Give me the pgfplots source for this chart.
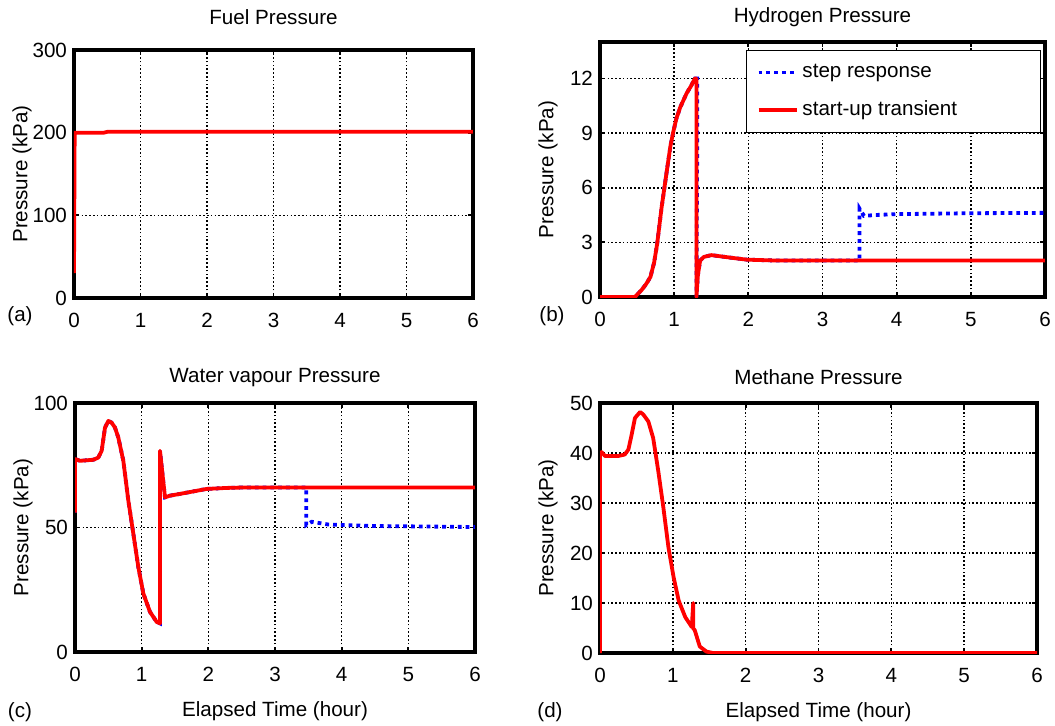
\documentclass[border=0pt]{standalone}
\usepackage{fontspec}
\setmainfont{Liberation Sans}
\usepackage{pgfplots}
\pgfplotsset{compat=1.18}

\newcommand{\fsz}{\fontsize{10.3}{12}\selectfont}

\pgfplotsset{
  panel/.style={
    scale only axis,
    xmin=0, xmax=6, xtick={0,...,6},
    grid=major,
    major grid style={black, line width=0.8pt, dash pattern=on 0.8pt off 1.1pt},
    axis line style={line width=1.8pt},
    tick align=inside, major tick length=2.5pt,
    tick style={black, line width=0.9pt},
    /pgf/number format/assume math mode=true,
    tick label style={font=\fsz},
    xticklabel style={yshift=-4pt},
    label style={font=\fsz},
    title style={font=\fsz, at={(0.5,1)}, anchor=center},
    ylabel={Pressure (kPa)},
    every axis y label/.style={at={(rel axis cs:0,0.5)}, xshift=-26pt, rotate=90, anchor=center, font=\fsz},
    every axis x label/.style={at={(rel axis cs:0.5,0)}, yshift=-29.5pt, anchor=center, font=\fsz},
  },
  startup/.style={red, line width=1.9pt, line join=round},
  step/.style={blue, line width=1.9pt, dash pattern=on 1.9pt off 2pt},
}

\begin{document}
\begin{tikzpicture}
\path[use as bounding box] (0,0) rectangle (527.5pt,-362.5pt);

% (a) fuel
\begin{axis}[panel, at={(37pt,-25pt)}, anchor=north west,
  width=199.5pt, height=124pt,
  ymin=0, ymax=300, ytick={0,100,200,300},
  title={Fuel Pressure}, title style={yshift=10.5pt}]
\addplot[startup] coordinates {
 (0,30) (0.01,200) (0.45,200) (0.5,201) (6,201)
};
\end{axis}

% (b) hydrogen
\begin{axis}[panel, at={(300pt,-21pt)}, anchor=north west,
  width=222.5pt, height=127.5pt,
  ymin=0, ymax=14, ytick={0,3,6,9,12},
  title={Hydrogen Pressure}, title style={yshift=6.5pt},
  legend style={at={(0.991,0.969)}, anchor=north east, font=\fsz,
    draw=black, line width=0.5pt, row sep=6pt, inner xsep=5pt, inner ysep=5pt,
    cells={anchor=west}},
  legend image code/.code={\draw[#1] (0pt,0pt) -- (19pt,0pt);}]
\addplot[step] coordinates {
 (0,0) (0.47,0) (0.56,0.38) (0.62,0.7) (0.68,1.1) (0.73,1.9) (0.77,2.9)
 (0.83,4.9) (0.90,6.9) (0.95,8.3) (0.99,9.1) (1.03,9.8) (1.08,10.4)
 (1.17,11.2) (1.23,11.6) (1.28,12.0) (1.31,12.0) (1.31,7.7) (1.30,0)
 (1.32,1.2) (1.35,2.0) (1.40,2.2) (1.50,2.3) (1.76,2.16) (1.98,2.05)
 (2.4,2.0) (3.5,2.0) (3.5,4.85) (3.56,4.45) (3.7,4.5) (4,4.55) (5,4.6) (6,4.62)
};
\addlegendentry{\makebox[112pt][l]{step response}}
\addplot[startup] coordinates {
 (0,0) (0.47,0) (0.56,0.38) (0.62,0.7) (0.68,1.1) (0.73,1.9) (0.77,2.9)
 (0.83,4.9) (0.90,6.9) (0.95,8.3) (0.99,9.1) (1.03,9.8) (1.08,10.4)
 (1.17,11.2) (1.23,11.6) (1.28,12.0) (1.30,12.0) (1.30,0)
 (1.32,1.2) (1.35,2.0) (1.40,2.2) (1.50,2.3) (1.76,2.16) (1.98,2.05)
 (2.4,2.0) (6,2.0)
};
\addlegendentry{start-up transient}
\end{axis}

% (c) water vapour
\begin{axis}[panel, at={(37.5pt,-201.5pt)}, anchor=north west,
  width=200pt, height=124.5pt,
  ymin=0, ymax=100, ytick={0,50,100},
  title={Water vapour Pressure}, title style={yshift=6.5pt},
  xlabel={Elapsed Time (hour)}]
\addplot[step] coordinates {
 (0,56) (0,77.5) (0.075,76.8) (0.275,77.2) (0.35,78.1) (0.40,80.8) (0.45,90.1)
 (0.50,92.8) (0.55,92.1) (0.60,90.1) (0.65,86.1) (0.725,76.8) (0.80,60.8)
 (0.875,47.5) (0.95,34.1) (1.025,23.5) (1.125,16.1) (1.225,12.1) (1.275,11.5)
 (1.275,80.8) (1.35,62.1) (1.425,62.8) (1.575,63.5) (1.775,64.5) (1.975,65.5)
 (2.275,65.9) (2.575,66.1) (3.47,66.1) (3.47,51) (3.55,52.3) (3.8,51.2)
 (4.5,50.6) (6,50.2)
};
\addplot[startup] coordinates {
 (0,56) (0,77.5) (0.075,76.8) (0.275,77.2) (0.35,78.1) (0.40,80.8) (0.45,90.1)
 (0.50,92.8) (0.55,92.1) (0.60,90.1) (0.65,86.1) (0.725,76.8) (0.80,60.8)
 (0.875,47.5) (0.95,34.1) (1.025,23.5) (1.125,16.1) (1.225,12.1) (1.275,11.5)
 (1.275,80.8) (1.35,62.1) (1.425,62.8) (1.575,63.5) (1.775,64.5) (1.975,65.5)
 (2.275,65.9) (2.575,66.1) (6,66.1)
};
\end{axis}

% (d) methane
\begin{axis}[panel, at={(300pt,-201.5pt)}, anchor=north west,
  width=218.5pt, height=125pt,
  ymin=0, ymax=50, ytick={0,10,...,50},
  title={Methane Pressure}, title style={yshift=7pt},
  xlabel={Elapsed Time (hour)}]
\addplot[startup] coordinates {
 (0,0) (0,39.5) (0.02,40.2) (0.07,39.4) (0.25,39.4) (0.34,39.7) (0.39,40.7)
 (0.435,43.7) (0.48,47.0) (0.55,48.2) (0.595,47.7) (0.664,46.3) (0.73,43.0)
 (0.80,36.4) (0.87,29.1) (0.94,21.1) (1.01,15.2) (1.08,10.5) (1.17,7.2)
 (1.26,5.2) (1.28,10.0) (1.28,4.9) (1.30,4.6) (1.37,1.3) (1.46,0.3)
 (1.55,0) (6,0)
};
\end{axis}

\node[font=\fsz] at (10pt,-158pt) {(a)};
\node[font=\fsz] at (276pt,-158pt) {(b)};
\node[font=\fsz] at (10pt,-356pt) {(c)};
\node[font=\fsz] at (275pt,-356pt) {(d)};
\end{tikzpicture}
\end{document}
